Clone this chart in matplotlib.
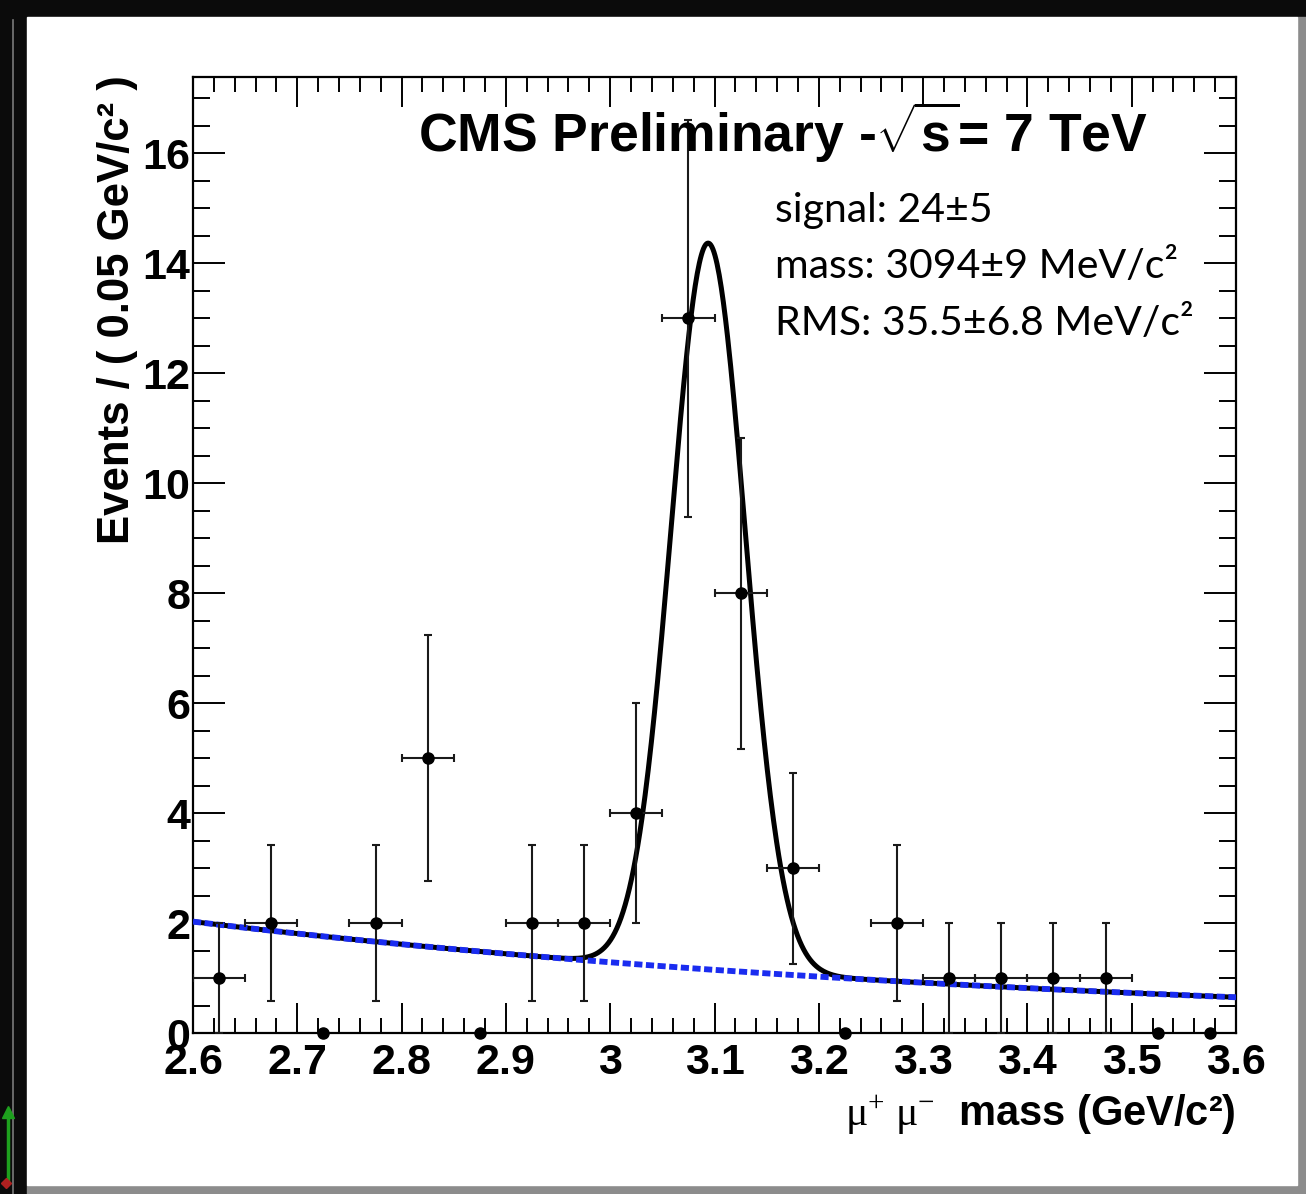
import numpy as np
import matplotlib
matplotlib.use("Agg")
import matplotlib.pyplot as plt
from matplotlib.patches import Rectangle
from matplotlib.lines import Line2D
from matplotlib.ticker import MultipleLocator, FixedLocator, FixedFormatter

plt.rcParams['mathtext.fontset'] = 'custom'
plt.rcParams['mathtext.rm'] = 'Liberation Serif'
plt.rcParams['mathtext.it'] = 'Liberation Serif:italic'
plt.rcParams['mathtext.bf'] = 'Liberation Sans:bold'

# binned data: 20 bins of 0.05 GeV between 2.6 and 3.6
bin_centers = [2.625, 2.675, 2.725, 2.775, 2.825, 2.875, 2.925, 2.975, 3.025, 3.075,
               3.125, 3.175, 3.225, 3.275, 3.325, 3.375, 3.425, 3.475, 3.525, 3.575]
counts = [1, 2, 0, 2, 5, 0, 2, 2, 4, 13, 8, 3, 0, 2, 1, 1, 1, 1, 0, 0]
bin_half = 0.025

# fit result (gaussian + exponential background), events per bin
sig_yield = 23.5
sig_mass = 3.094
sig_rms = 0.0355
bg_left = 2.03    # background at 2.6
bg_right = 0.655  # background at 3.6

xticks = [2.6, 2.7, 2.8, 2.9, 3.0, 3.1, 3.2, 3.3, 3.4, 3.5, 3.6]
xticklabels = ['2.6', '2.7', '2.8', '2.9', '3', '3.1', '3.2', '3.3', '3.4', '3.5', '3.6']
yticks = [0, 2, 4, 6, 8, 10, 12, 14, 16]

stat_lines = ['signal: 24\u00b15',
              'mass: 3094\u00b19 MeV/c\u00b2',
              'RMS: 35.5\u00b16.8 MeV/c\u00b2']

W, H = 1306, 1194
fig = plt.figure(figsize=(W / 100, H / 100), dpi=100, facecolor='#0b0b0b')

def fx(px):
    return px / W

def fy(py):
    return (H - py) / H

# white canvas with grey shadow edges
fig.add_artist(Rectangle((fx(27), fy(1194)), fx(1306 - 27), 9 / H,
                         transform=fig.transFigure, color='#8c8c8c', zorder=-3))
fig.add_artist(Rectangle((fx(1297), fy(1194)), fx(9), (1194 - 17) / H,
                         transform=fig.transFigure, color='#8c8c8c', zorder=-3))
fig.add_artist(Rectangle((fx(27), fy(1185)), fx(1297 - 27), (1185 - 17) / H,
                         transform=fig.transFigure, color='white', zorder=-2))
fig.add_artist(Line2D([fx(13), fx(13)], [fy(20), fy(1194)], transform=fig.transFigure,
                      color='#7a7a7a', lw=1.2))
# small green axis arrow at the lower left
fig.add_artist(Line2D([fx(8), fx(8)], [fy(1182), fy(1110)], transform=fig.transFigure,
                      color='#1ea01e', lw=2.5))
fig.add_artist(Line2D([fx(8)], [fy(1112)], transform=fig.transFigure, marker='^',
                      ms=9, color='#1ea01e', lw=0))
fig.add_artist(Line2D([fx(6)], [fy(1183)], transform=fig.transFigure, marker='D',
                      ms=5, color='#b02020', lw=0))

ax = fig.add_axes([fx(193), fy(1033.3), fx(1236 - 193), (1033.3 - 76.7) / H])
ax.set_xlim(2.6, 3.6)
ax.set_ylim(0, 17.39)

# fit curves
xs = np.linspace(2.6, 3.6, 1000)
k = np.log(bg_left / bg_right)
bg = bg_left * np.exp(-k * (xs - 2.6))
gauss = sig_yield * 2 * bin_half / (sig_rms * np.sqrt(2 * np.pi)) * \
    np.exp(-0.5 * ((xs - sig_mass) / sig_rms) ** 2)
ax.plot(xs, bg + gauss, color='black', lw=3.6, zorder=2, solid_capstyle='butt')
ax.plot(xs, bg, color='#1a2cf0', lw=4.2, zorder=3, dashes=(1.4, 0.6))

# data points
x_arr = np.array(bin_centers)
n_arr = np.array(counts, dtype=float)
nz = n_arr > 0
ax.errorbar(x_arr[nz], n_arr[nz], yerr=np.sqrt(n_arr[nz]), xerr=bin_half,
            fmt='o', color='black', ecolor='#1a1a1a', ms=8, elinewidth=1.5,
            capsize=3, capthick=1.5, zorder=5)
ax.plot(x_arr[~nz], n_arr[~nz], 'o', color='black', ms=8, zorder=5, clip_on=False)

# axes styling
for sp in ax.spines.values():
    sp.set_linewidth(1.6)
ax.xaxis.set_major_locator(FixedLocator(xticks))
ax.xaxis.set_major_formatter(FixedFormatter(xticklabels))
ax.xaxis.set_minor_locator(MultipleLocator(0.02))
ax.yaxis.set_major_locator(FixedLocator(yticks))
ax.yaxis.set_minor_locator(MultipleLocator(0.5))
ax.tick_params(axis='x', which='major', direction='in', length=21.5, width=1.4,
               top=True, pad=7, labelsize=31)
ax.tick_params(axis='x', which='minor', direction='in', length=10.8, width=1.4, top=True)
ax.tick_params(axis='y', which='major', direction='in', length=23, width=1.4,
               right=True, pad=2, labelsize=31)
ax.tick_params(axis='y', which='minor', direction='in', length=12.5, width=1.4, right=True)
for lab in ax.get_xticklabels() + ax.get_yticklabels():
    lab.set_fontfamily('Liberation Sans')
    lab.set_fontweight('bold')

# titles and labels
fig.text(fx(418), fy(152), r'CMS Preliminary -$\sqrt{\mathbf{s}}$= 7 TeV',
         fontsize=38.5, fontweight='bold', family='Liberation Sans', va='baseline')
for i, line in enumerate(stat_lines):
    fig.text(fx(775), fy(222 + 56.5 * i), line, fontsize=29.5, family='Lato',
             va='baseline', ha='left')
fig.text(fx(118), fy(75), 'Events / ( 0.05 GeV/c\u00b2 )', rotation=90, ha='center',
         va='top', fontsize=31.5, fontweight='bold', family='Liberation Sans')
fig.text(fx(1236), fy(1125), '$\\mathrm{\\mu^{+}\\ \\mu^{-}}$  mass (GeV/c\u00b2)',
         ha='right', va='baseline', fontsize=30, fontweight='bold',
         family='Liberation Sans')

fig.savefig('out.png', dpi=100, facecolor=fig.get_facecolor())
